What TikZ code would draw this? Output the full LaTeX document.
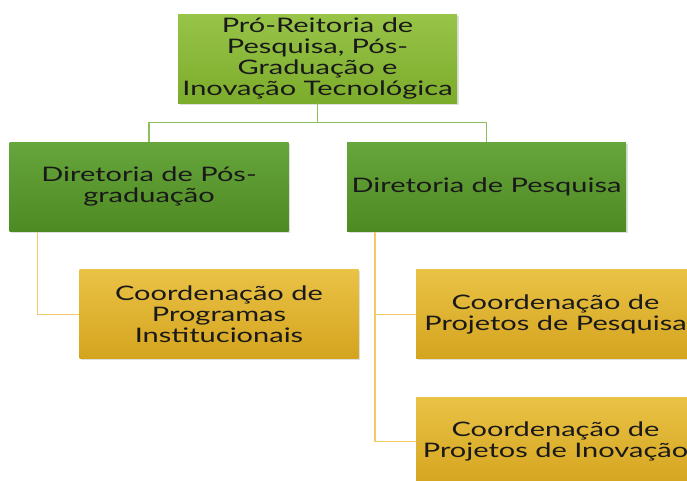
\documentclass[tikz,border=0pt]{standalone}
\usepackage{fontspec}
\newfontfamily\orgfont[FakeStretch=1.45]{Lato}
\usepackage{tikz}
\usetikzlibrary{positioning,shadows}
\definecolor{headtop}{RGB}{152,196,72}
\definecolor{headbot}{RGB}{124,172,44}
\definecolor{dirtop}{RGB}{102,166,60}
\definecolor{dirbot}{RGB}{78,138,34}
\definecolor{cootop}{RGB}{234,194,70}
\definecolor{coobot}{RGB}{212,164,30}
\definecolor{glinecol}{RGB}{140,192,92}
\definecolor{olinecol}{RGB}{242,202,104}
\tikzset{
  box/.style={rectangle, draw=none, align=center, text=black!90,
    font=\orgfont\fontsize{20pt}{21pt}\selectfont, inner sep=2pt,
    minimum width=279pt, minimum height=89pt,
    drop shadow={shadow xshift=1.5pt, shadow yshift=-1.5pt, opacity=0.25}},
  head/.style={box, top color=headtop, bottom color=headbot},
  dir/.style={box, top color=dirtop, bottom color=dirbot},
  coord/.style={box, top color=cootop, bottom color=coobot},
  glink/.style={line width=1.5pt, draw=glinecol},
  olink/.style={line width=1.5pt, draw=olinecol},
}
\begin{document}
\begin{tikzpicture}[x=1pt, y=-1pt]
\useasboundingbox (0,0) rectangle (687,480);
\node[head] (proreit) at (317.5,58.5) {Pró-Reitoria de\\Pesquisa, Pós-\\Graduação e\\Inovação Tecnológica};
% diretorias
\node[dir, below=39pt of proreit, xshift=-168.5pt] (dirpos) {Diretoria de Pós-\\graduação};
\node[dir, below=39pt of proreit, xshift=169pt] (dirpesq) {Diretoria de Pesquisa};
\draw[glink] (proreit.south) -- ++(0,19.5) -| (dirpos.north);
\draw[glink] (proreit.south) -- ++(0,19.5) -| (dirpesq.north);
% coordenacoes
\node[coord, below=38pt of dirpos, xshift=70pt] (coprog) {Coordenação de\\Programas\\Institucionais};
\node[coord, below=38pt of dirpesq, xshift=69pt] (coproj) {Coordenação de\\Projetos de Pesquisa};
\node[coord, below=38pt of coproj] (coinov) {Coordenação de\\Projetos de Inovação};
\draw[olink] ([xshift=28pt]dirpos.south west) |- (coprog.west);
\draw[olink] ([xshift=28pt]dirpesq.south west) |- (coproj.west);
\draw[olink] ([xshift=28pt]dirpesq.south west) |- (coinov.west);
\end{tikzpicture}
\end{document}
